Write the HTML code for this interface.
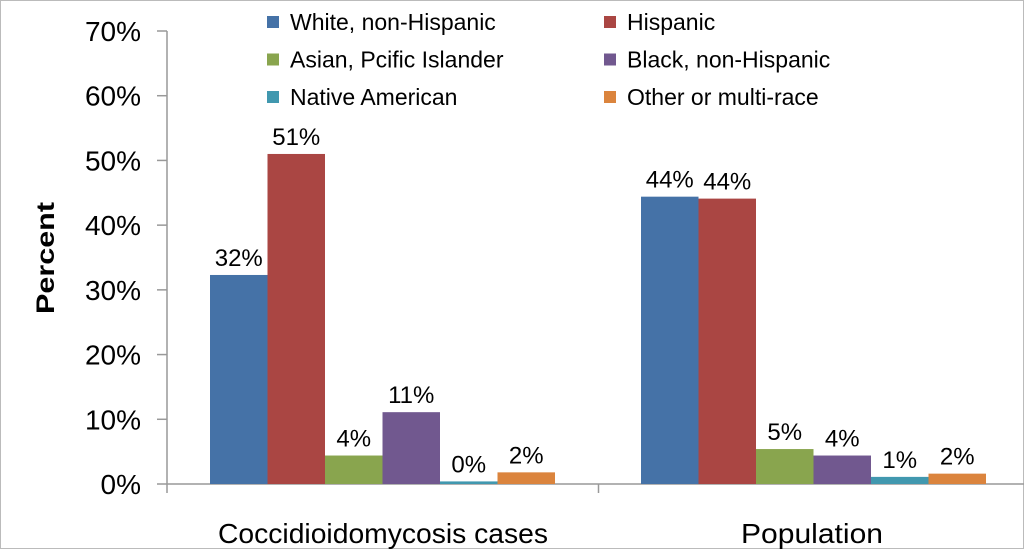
<!DOCTYPE html>
<html><head><meta charset="utf-8"><style>
html,body{margin:0;padding:0;background:#fff;}
svg{display:block;font-family:"Liberation Sans",sans-serif;}
</style></head><body>
<svg id="chart" width="1024" height="549" viewBox="0 0 1024 549" xmlns="http://www.w3.org/2000/svg">
<rect x="0.5" y="0.5" width="1023" height="548" fill="#fff" stroke="#bbb"/>
<g id="axes"></g><g id="bars"></g><g id="legend"></g>
<text x="54" y="258" transform="rotate(-90 54 258)" text-anchor="middle" font-size="25" font-weight="bold" textLength="112" lengthAdjust="spacingAndGlyphs">Percent</text>
</svg>
<script>
const categories = ["Coccidioidomycosis cases", "Population"];
const seriesNames = ["White, non-Hispanic","Hispanic","Asian, Pcific Islander","Black, non-Hispanic","Native American","Other or multi-race"];
const seriesColors = ["#4572a7","#aa4643","#89a54e","#71588f","#4198af","#db843d"];
const casesValues = [32.3, 51.0, 4.4, 11.1, 0.4, 1.8];
const populationValues = [44.4, 44.1, 5.4, 4.4, 1.1, 1.6];
const yTicks = [0,10,20,30,40,50,60,70];
const yTickLabels = ["0%","10%","20%","30%","40%","50%","60%","70%"];
const values = [casesValues, populationValues];
const NS="http://www.w3.org/2000/svg";
const x0=167, x1=1030, y0=484, yTop=31;
const y = v => y0 - (v/70)*(y0-yTop);
const groupW = (x1-x0)/2;
function mk(t,a,p){const e=document.createElementNS(NS,t);for(const k in a)e.setAttribute(k,a[k]);p.appendChild(e);return e;}
const axes=document.getElementById('axes'), bars=document.getElementById('bars'), leg=document.getElementById('legend');
let ax=mk('line',{x1:x0,y1:yTop,x2:x0,y2:y0,stroke:'#999','stroke-width':1.5},axes);


yTicks.forEach((t,i)=>{
  const tk=mk('line',{x1:x0-10,y1:y(t),x2:x0,y2:y(t),stroke:'#999','stroke-width':1.5},axes);
  
  
  const tx=mk('text',{x:141,y:y(t)+10,'text-anchor':'end','font-size':28},axes);
  tx.textContent=yTickLabels[i];
  
  
});
let bx=mk('line',{x1:x0,y1:y0,x2:x1,y2:y0,stroke:'#999','stroke-width':1.5},axes);


[0,1].forEach(i=>{
  const tk=mk('line',{x1:x0+groupW*i,y1:y0,x2:x0+groupW*i,y2:y0+9,stroke:'#999','stroke-width':1.5},axes);
  
  
});
const bw=57.5;
categories.forEach((c,ci)=>{
  const start = ci===0 ? 210 : 641;
  const lab=mk('text',{x:ci===0?383:812,y:543,'text-anchor':'middle','font-size':28},axes);
  lab.textContent=c;
  if(ci===0){lab.setAttribute('textLength',330);lab.setAttribute('lengthAdjust','spacingAndGlyphs');}
  else{lab.setAttribute('textLength',142);lab.setAttribute('lengthAdjust','spacingAndGlyphs');}
  
  
  values[ci].forEach((v,si)=>{
    const bx=start+si*bw;
    const r=mk('rect',{x:bx,y:y(v),width:bw,height:y0-y(v),fill:seriesColors[si]},bars);
    
    
    const t=mk('text',{x:bx+bw/2,y:y(v)-9,'text-anchor':'middle','font-size':24},bars);
    t.textContent=Math.round(v)+'%';
    
    
  });
});
seriesNames.forEach((n,i)=>{
  const col=i%2, row=Math.floor(i/2);
  const lx=col===0?267:604, ly=22+row*37.5;
  const g=mk('g',{},leg);
  
  
  mk('rect',{x:lx,y:ly-6,width:12,height:12,fill:seriesColors[i]},g);
  const t=mk('text',{x:lx+23,y:ly+8,'font-size':23},g);
  t.textContent=n;
});
</script>
</body></html>
